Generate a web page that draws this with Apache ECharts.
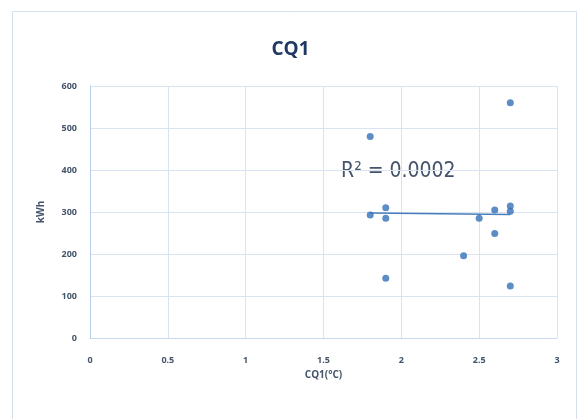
<!DOCTYPE html>
<html><head><meta charset="utf-8">
<script src="https://cdn.jsdelivr.net/npm/echarts@6/dist/echarts.min.js"></script>
<style>html,body{margin:0;padding:0;background:#fff}#c{width:581px;height:419px}</style>
</head><body><div id="c"></div>
<script>
const xValues = [2.7, 1.8, 1.8, 1.9, 1.9, 1.9, 2.4, 2.5, 2.6, 2.6, 2.7, 2.7, 2.7];
const yValues = [560, 480, 293, 310, 285, 142, 196, 285, 305, 249, 314, 302, 124];
const xTicks = [0, 0.5, 1, 1.5, 2, 2.5, 3];
const yTicks = [0, 100, 200, 300, 400, 500, 600];
const titleText = 'CQ1';
const xName = 'CQ1(°C)';
const yName = 'kWh';
const r2Text = 'R² = 0.0002';

const pts = xValues.map((x, i) => [x, yValues[i]]);
// least-squares trend line
const n = pts.length;
const mx = xValues.reduce((a, b) => a + b, 0) / n;
const my = yValues.reduce((a, b) => a + b, 0) / n;
let sxy = 0, sxx = 0;
for (let i = 0; i < n; i++) { sxy += (xValues[i] - mx) * (yValues[i] - my); sxx += (xValues[i] - mx) ** 2; }
const slope = sxy / sxx, icpt = my - slope * mx;
const xmin = Math.min(...xValues), xmax = Math.max(...xValues);
const trend = [[xmin, icpt + slope * xmin], [xmax, icpt + slope * xmax]];

const labelColor = '#44546a';
const chart = echarts.init(document.getElementById('c'), null, { renderer: 'canvas' });
chart.setOption({
  animation: false,
  textStyle: { fontFamily: 'Open Sans, sans-serif' },
  graphic: [
    { type: 'rect', shape: { x: 12.5, y: 11.5, width: 564, height: 430 }, style: { fill: 'none', stroke: '#d5dfee', lineWidth: 1 }, z: -1 },
    { type: 'text', left: 341, top: 161, style: { text: r2Text, fontSize: 21, fontFamily: '"Liberation Sans Narrow", "DejaVu Sans Condensed", sans-serif', fill: '#44546a' } }
  ],
  title: { text: titleText, left: 'center', top: 35, textStyle: { fontSize: 19, fontWeight: 'bold', color: '#1f3864', fontFamily: 'Open Sans, sans-serif' } },
  grid: { left: 90, right: 24, top: 86, bottom: 81 },
  xAxis: {
    type: 'value', min: xTicks[0], max: xTicks[xTicks.length - 1], interval: 0.5,
    name: xName, nameLocation: 'middle', nameGap: 30,
    nameTextStyle: { fontSize: 10, color: labelColor, fontWeight: 'bold' },
    axisLine: { show: true, lineStyle: { color: '#c9d8ee' } },
    axisTick: { show: false },
    axisLabel: { fontSize: 9, color: labelColor, fontWeight: 'bold', margin: 18 },
    splitLine: { show: true, lineStyle: { color: '#d9e4f3' } }
  },
  yAxis: {
    type: 'value', min: yTicks[0], max: yTicks[yTicks.length - 1], interval: 100,
    name: yName, nameLocation: 'middle', nameGap: 44,
    nameTextStyle: { fontSize: 10, color: labelColor, fontWeight: 'bold' },
    axisLine: { show: true, lineStyle: { color: '#b9cdea' } },
    axisTick: { show: false },
    axisLabel: { fontSize: 9, color: labelColor, fontWeight: 'bold', margin: 13 },
    splitLine: { show: true, lineStyle: { color: '#d9e4f3' } }
  },
  series: [
    { type: 'scatter', data: pts, symbolSize: 7, itemStyle: { color: '#3370b8' }, z: 3 },
    { type: 'line', data: trend, showSymbol: false, lineStyle: { color: '#4a7ebb', width: 1.5 }, z: 2 }
  ]
});
</script></body></html>
